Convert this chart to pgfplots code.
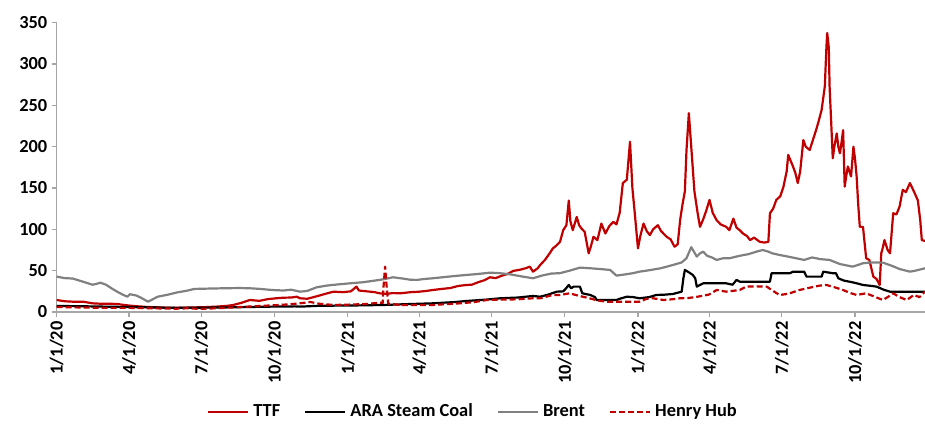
\documentclass[border=0pt]{standalone}
\usepackage{pgfplots}
\pgfplotsset{compat=1.18}
\usepackage{fontspec}
\setmainfont{Carlito}
\definecolor{ttf}{RGB}{192,0,0}
\definecolor{brent}{RGB}{128,128,128}
\definecolor{axgray}{RGB}{166,166,166}
\begin{document}
\begin{tikzpicture}
\useasboundingbox (-28.35pt,-55.5pt) rectangle (434.15pt,156pt);
\begin{axis}[
  at={(0,0)}, anchor=south west,
  scale only axis, width=434.15pt, height=144.65pt,
  xmin=0, xmax=1092, ymin=0, ymax=350,
  axis x line*=bottom, axis y line*=left,
  axis line style={axgray, line width=0.6pt},
  tick style={axgray, line width=0.6pt},
  tick align=outside, major tick length=2.5pt,
  ytick={0,50,...,350},
  xtick={0,91,182,274,366,456,547,639,731,821,912,1004},
  xticklabels={1/1/20,4/1/20,7/1/20,10/1/20,1/1/21,4/1/21,7/1/21,10/1/21,1/1/22,4/1/22,7/1/22,10/1/22},
  xticklabel style={rotate=90, anchor=east, inner sep=2pt},
  yticklabel style={inner sep=2pt},
  ticklabel style={font=\fontsize{9.2}{11}\selectfont\bfseries},
  /pgf/number format/assume math mode=true,
  legend style={at={(0.4806,-0.3457)}, anchor=center, legend columns=4, draw=none,
    font=\fontsize{9.2}{11}\selectfont\bfseries,
    /tikz/every even column/.append style={column sep=10pt}},
  legend image code/.code={\draw[#1] (0pt,0pt) -- (20pt,0pt);},
  every axis plot/.append style={line width=1.1pt, line join=round},
]
\addplot[ttf] coordinates {
(0,14.5)(10,13)(20,12.5)(33,12.5)(45,10.5)(55,10)(66,10)(76,9.7)(85,8.5)(92,7.7)
(100,7)(115,6)(130,5.5)(145,5)(159,5.2)(170,5.5)(185,5.8)(201,6.5)(215,7.5)(222,8.5)
(232,11)(243,14.5)(255,13.5)(265,15.5)(275,16.5)(285,17.3)(295,17.5)(302,18.5)(306,16.6)(315,16)
(327,19)(338,22)(348,24.6)(360,24)(370,25)(377,30.7)(380,26)(390,25)(400,24)(406,22.6)
(415,22)(423,22.9)(432,22.6)(445,24)(455,24.5)(465,25.5)(473,26.6)(485,28)(495,29)(505,31.5)
(515,32.7)(522,33)(530,36)(538,38.5)(545,42)(552,41)(560,44)(567,46)(574,49.7)(582,51)
(590,53)(595,54.9)(599,48.8)(605,53)(608,56.9)(614,63)(620,71)(624,77)(628,80)(633,85)
(637,99)(641,105)(644,134.8)(646,110)(649,99)(654,115)(657,105)(660,101)(664,97)(669,71)
(672,80)(675,91)(680,87)(685,107)(690,95)(695,104)(700,109)(704,106)(708,120)(712,156)
(717,160)(721,206)(724,150)(727,119.5)(731,77)(734,92)(738,107)(742,98)(746,93)(750,100)
(756,105)(760,98)(767,91)(772,88)(777,79)(781,82)(784,111)(787,130)(790,146)(792,195)
(795,240.6)(798,200)(802,146)(806,120)(809,103)(813,112)(817,123)(821,135.6)(825,120)(830,111)
(835,106)(842,103)(846,99)(851,113)(855,102)(859,99)(863,95)(868,92)(872,87)(877,90)
(884,85)(890,84)(895,85)(897,119.5)(901,125)(905,135.6)(910,140)(914,151.7)(918,170)(920,190)
(923,183)(926,176)(929,168)(932,156)(935,170)(939,208)(942,200)(947,196)(950,205)(955,220)
(958,230)(962,244.6)(966,273)(968,320)(969,337.5)(971,320)(972,273)(974,230)(976,186)(978,200)
(981,216)(983,200)(985,192)(987,205)(989,220)(991,151.7)(993,165)(995,176)(997,170)(999,164)
(1002,200)(1004,185)(1006,164)(1008,130)(1010,103)(1014,103)(1018,65)(1022,63)(1027,42.8)(1031,40)
(1035,32.7)(1037,71)(1039,78)(1041,87)(1045,75)(1048,71)(1052,119.5)(1056,118)(1060,127.5)(1064,147.8)
(1068,145)(1073,156)(1076,150)(1079,143.8)(1083,135)(1086,111)(1088,87)(1092,86)
};
\addlegendentry{TTF}
\addplot[black] coordinates {
(0,7.3)(30,7)(60,6.5)(92,6)(120,5.5)(150,5)(180,5.2)(210,5.5)(240,6)(270,6.5)
(300,6.8)(306,6.5)(330,7.5)(350,7.7)(380,8)(411,8.5)(440,9.5)(473,10.5)(500,12)(515,13.3)
(540,15)(558,16.6)(580,17.5)(599,19.4)(608,18.5)(618,21)(629,24.6)(637,25)(640,28)(644,32.7)
(647,28.7)(650,30.7)(658,30.7)(661,22.6)(671,20.6)(677,18)(679,14.5)(704,14.5)(708,16)(717,18.5)
(725,18)(733,16.6)(745,18)(754,20.6)(765,21)(775,21.8)(786,24.6)(788,40)(790,50.9)(795,48)
(800,44.8)(803,40.8)(805,30.7)(809,32.7)(813,34.7)(842,34.7)(850,33)(855,38.8)(859,36.7)(897,36.7)
(899,46.9)(922,46.9)(926,48.8)(940,48.8)(943,42.8)(962,42.8)(964,48.8)(976,46.9)(980,46.9)(983,40.8)
(990,38)(997,36.7)(1005,35)(1014,32.7)(1025,31.5)(1031,30.7)(1040,27)(1048,24.6)(1092,24.6)
};
\addlegendentry{ARA Steam Coal}
\addplot[brent] coordinates {
(0,42.8)(10,41)(20,40.5)(33,36.7)(45,33)(50,34)(55,35.5)(62,33)(70,28)(76,24.6)
(83,21)(89,18.5)(92,21.5)(100,20)(106,17.3)(112,14)(115,12.5)(120,15)(127,18.5)(140,21)
(152,23.8)(165,26)(173,27.9)(190,28.3)(210,28.7)(230,29)(243,28.7)(255,28)(271,26.6)(285,26)
(295,27)(306,24.6)(315,25.5)(327,29.9)(340,32)(355,33.5)(369,34.7)(385,36)(400,38)(411,39.6)
(423,42)(435,40.5)(445,39)(453,38.8)(463,40)(473,40.8)(485,42)(500,43.5)(515,44.8)(530,46)
(545,47.6)(557,47)(570,45.6)(585,43)(599,40.8)(610,44)(622,46.5)(633,47)(645,50)(658,53.7)
(670,53)(683,52)(696,50.9)(704,44)(715,45.5)(725,47)(733,48.8)(745,50.5)(760,53)(775,56.9)
(786,60)(792,65)(798,78.4)(802,72)(805,67)(809,71)(813,73)(818,68)(824,66)(830,63)
(838,65)(846,65)(859,68)(870,70)(880,73)(888,75)(895,73)(900,71)(909,69)(920,67)
(930,65)(940,63)(950,66)(960,64)(972,63)(985,58)(1001,54.9)(1008,57)(1014,59)(1025,60)
(1039,59.7)(1050,56)(1060,52)(1073,48.8)(1080,50)(1092,52.9)
};
\addlegendentry{Brent}
\addplot[ttf, dash pattern=on 3pt off 1.5pt] coordinates {
(0,6)(30,5.5)(60,5)(92,5)(120,4.5)(150,4)(165,4.5)(180,3.8)(200,4.5)(220,5.5)
(240,6.5)(260,7.5)(280,8.5)(295,9.5)(306,10.5)(319,12.1)(330,10)(348,8.5)(370,9)(390,9.7)
(406,11.3)(410,11)(411,30)(413,54.9)(415,30)(417,10)(432,8.5)(450,8.5)(473,8.5)(490,9.5)
(507,10.5)(525,12)(541,14.5)(560,15)(578,15.3)(599,16.6)(608,16.6)(624,20.6)(633,20.6)(645,22.6)
(655,20)(670,16.6)(680,14)(691,12.5)(710,12.5)(733,12.5)(742,16)(750,16.6)(763,14.5)(775,15.5)
(784,16.6)(795,17)(806,18.5)(820,21)(830,26.6)(842,24.6)(859,26.6)(867,30.7)(880,31)(893,30.7)
(900,26)(909,20.6)(920,22)(934,26.6)(950,30)(960,32)(968,32.7)(978,30)(989,26.6)(998,23)
(1006,20.6)(1018,22.6)(1030,18)(1039,14.5)(1045,18)(1052,22.6)(1060,18)(1069,14.5)(1078,20.6)(1085,18)
(1092,24.6)
};
\addlegendentry{Henry Hub}
\end{axis}
\end{tikzpicture}
\end{document}
